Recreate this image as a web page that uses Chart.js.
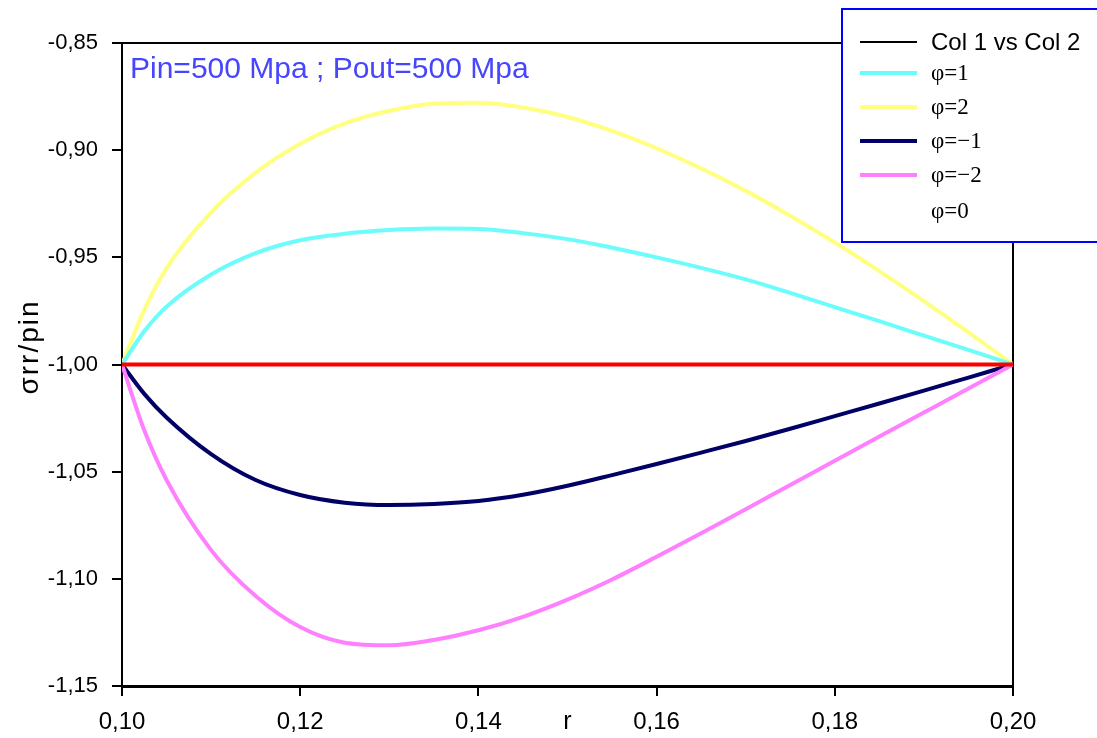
<!DOCTYPE html>
<html>
<head>
<meta charset="utf-8">
<script src="https://cdn.jsdelivr.net/npm/chart.js@4/dist/chart.umd.min.js"></script>
<style>
  html, body { margin: 0; padding: 0; background: #fff; }
  #wrap { width: 1097px; height: 738px; position: relative; }
</style>
</head>
<body>
<div id="wrap"><canvas id="c" width="1097" height="738"></canvas></div>
<script>
// ---- data ----
const rValues = [0.100, 0.1025, 0.105, 0.110, 0.115, 0.120, 0.125, 0.130, 0.135, 0.140, 0.145, 0.150,
                 0.155, 0.160, 0.165, 0.170, 0.175, 0.180, 0.185, 0.190, 0.195, 0.200];
const col1vsCol2 = [-1, -1, -1, -1, -1, -1, -1, -1, -1, -1, -1, -1, -1, -1, -1, -1, -1, -1, -1, -1, -1, -1];
const phiPlus1 = [-1.000, -0.9845, -0.973, -0.958, -0.948, -0.942, -0.939, -0.9373, -0.9366, -0.9368, -0.9387, -0.9415,
                  -0.9455, -0.9500, -0.9549, -0.9603, -0.9666, -0.9732, -0.9798, -0.9865, -0.9932, -1.000];
const phiPlus2 = [-1.000, -0.9745, -0.955, -0.929, -0.9105, -0.897, -0.8875, -0.8816, -0.8783, -0.8779, -0.8801, -0.8845,
                  -0.8910, -0.8991, -0.9085, -0.9190, -0.9306, -0.9431, -0.9564, -0.9704, -0.9850, -1.000];
const phiMinus1 = [-1.000, -1.0137, -1.0247, -1.0418, -1.0539, -1.0609, -1.0645, -1.0656, -1.0651, -1.0637, -1.0608, -1.0566,
                   -1.0516, -1.0464, -1.0411, -1.0357, -1.0300, -1.0241, -1.0182, -1.0122, -1.0061, -1.000];
const phiMinus2 = [-1.000, -1.0307, -1.0539, -1.0866, -1.1080, -1.1225, -1.1298, -1.1310, -1.1285, -1.1240, -1.1177, -1.1097,
                   -1.1003, -1.0897, -1.0787, -1.0675, -1.0562, -1.0449, -1.0336, -1.0224, -1.0112, -1.000];
const phiZero = [-1, -1, -1, -1, -1, -1, -1, -1, -1, -1, -1, -1, -1, -1, -1, -1, -1, -1, -1, -1, -1, -1];

const seriesLabels = ['Col 1 vs Col 2', 'φ=1', 'φ=2', 'φ=−1', 'φ=−2', 'φ=0'];
const annotationText = 'Pin=500 Mpa ; Pout=500 Mpa';
const xTitle = 'r';
const yTitle = 'σrr/pin';
const xMin = 0.10, xMax = 0.20, xStep = 0.02;
const yMin = -1.15, yMax = -0.85, yStep = 0.05;

// ---- styling ----
const SANS = "'Liberation Sans', Arial, sans-serif";
const SERIF = "'Liberation Serif', 'Times New Roman', serif";
const styles = [
  { color: '#000000', width: 1.5, order: 10, legendLine: true,  font: '24px ' + SANS },
  { color: '#6dfcfc', width: 4,   order: 4,  legendLine: true,  font: '23px ' + SERIF },
  { color: '#ffff80', width: 4,   order: 5,  legendLine: true,  font: '23px ' + SERIF },
  { color: '#000066', width: 4,   order: 3,  legendLine: true,  font: '23px ' + SERIF },
  { color: '#ff80ff', width: 4,   order: 2,  legendLine: true,  font: '23px ' + SERIF },
  { color: '#ff0000', width: 4,   order: 0,  legendLine: false, font: '23px ' + SERIF }
];
const seriesValues = [col1vsCol2, phiPlus1, phiPlus2, phiMinus1, phiMinus2, phiZero];

const toPoints = vals => rValues.map((x, i) => ({ x: x, y: vals[i] }));
const comma = v => v.toFixed(2).replace('.', ',');

const datasets = seriesValues.map((vals, i) => ({
  label: seriesLabels[i],
  data: toPoints(vals),
  borderColor: styles[i].color,
  backgroundColor: styles[i].color,
  borderWidth: styles[i].width,
  pointRadius: 0,
  fill: false,
  cubicInterpolationMode: 'monotone',
  order: styles[i].order
}));

const framePlugin = {
  id: 'frame',
  beforeDatasetsDraw(chart) {
    const { ctx, chartArea: a } = chart;
    ctx.save();
    ctx.strokeStyle = '#000';
    ctx.lineWidth = 2;
    ctx.beginPath();
    ctx.moveTo(a.left, a.top);
    ctx.lineTo(a.right, a.top);
    ctx.lineTo(a.right, a.bottom);
    ctx.stroke();
    ctx.restore();
  },
  afterDraw(chart) {
    const { ctx, chartArea: a } = chart;
    ctx.save();
    // y axis title
    ctx.save();
    ctx.translate(30, 347);
    ctx.rotate(-Math.PI / 2);
    ctx.font = '28px ' + SANS;
    if ('letterSpacing' in ctx) ctx.letterSpacing = '2px';
    ctx.fillStyle = '#000';
    ctx.textAlign = 'center';
    ctx.textBaseline = 'middle';
    ctx.fillText(yTitle, 0, 0);
    ctx.restore();

    // annotation text
    ctx.font = '30px ' + SANS;
    ctx.fillStyle = '#4646ff';
    ctx.textBaseline = 'alphabetic';
    ctx.textAlign = 'left';
    ctx.fillText(annotationText, a.left + 8, a.top + 35);

    // legend box
    const bx = 842, by = 9, bw = 270, bh = 233;
    ctx.fillStyle = '#fff';
    ctx.fillRect(bx, by, bw, bh);
    ctx.strokeStyle = '#0000ff';
    ctx.lineWidth = 2;
    ctx.strokeRect(bx, by, bw, bh);
    const rowsY = [42, 73, 107, 141, 175, 211];
    ctx.textBaseline = 'middle';
    for (let i = 0; i < seriesLabels.length; i++) {
      const y = rowsY[i];
      if (styles[i].legendLine) {
        ctx.strokeStyle = styles[i].color;
        ctx.lineWidth = i === 0 ? 2 : 4;
        ctx.beginPath();
        ctx.moveTo(860, y);
        ctx.lineTo(917, y);
        ctx.stroke();
      }
      ctx.fillStyle = '#000';
      ctx.font = styles[i].font;
      ctx.fillText(seriesLabels[i], 931, y + 1);
    }
    ctx.restore();
  }
};

new Chart(document.getElementById('c'), {
  type: 'line',
  data: { datasets },
  options: {
    responsive: false,
    animation: false,
    events: [],
    layout: { padding: { top: 43, right: 84, left: 0, bottom: 0 } },
    plugins: { legend: { display: false }, tooltip: { enabled: false } },
    scales: {
      x: {
        type: 'linear',
        min: xMin, max: xMax,
        afterFit(s) { s.height = 52; },
        ticks: {
          stepSize: xStep,
          padding: 12,
          color: '#000',
          font: { family: SANS, size: 24 },
          maxRotation: 0,
          callback: v => comma(v)
        },
        grid: { drawOnChartArea: false, drawTicks: true, tickLength: 10, color: '#000', lineWidth: 2 },
        border: { display: true, color: '#000', width: 3 },
        title: { display: true, text: xTitle, color: '#000', font: { family: SANS, size: 25 }, padding: { top: 0, bottom: 1 } }
      },
      y: {
        type: 'linear',
        min: yMin, max: yMax,
        afterFit(s) { s.width = 122; },
        ticks: {
          stepSize: yStep,
          padding: 14,
          color: '#000',
          font: { family: SANS, size: 22 },
          callback: v => comma(v)
        },
        grid: { drawOnChartArea: false, drawTicks: true, tickLength: 10, color: '#000', lineWidth: 2 },
        border: { display: true, color: '#000', width: 2 },
        title: { display: false, text: yTitle }
      }
    }
  },
  plugins: [framePlugin]
});
</script>
</body>
</html>
